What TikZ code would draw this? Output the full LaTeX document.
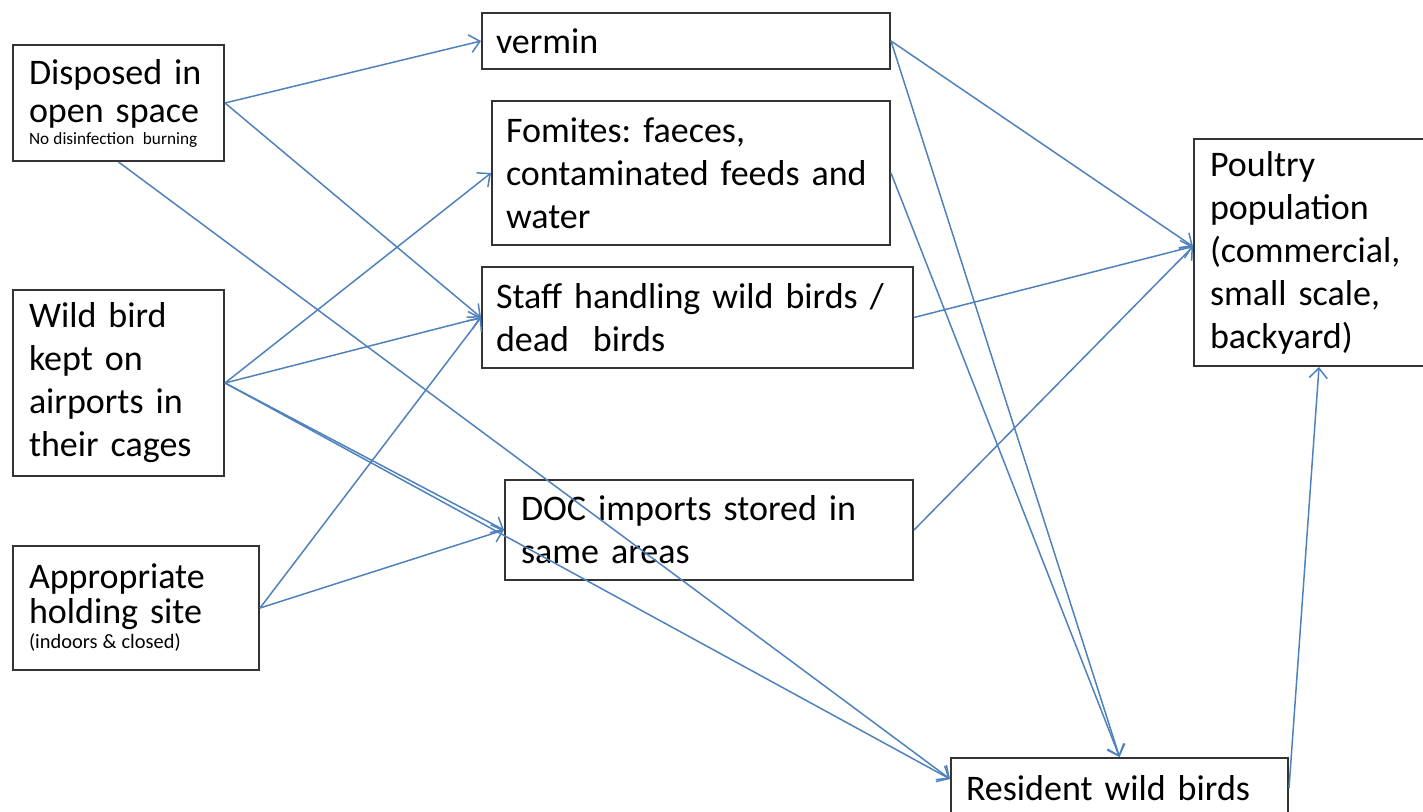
\documentclass[tikz,border=0pt]{standalone}
\usepackage{fontspec}
\setmainfont{Carlito}
\usetikzlibrary{arrows.meta}
\definecolor{linkblue}{HTML}{4F81BD}
\frenchspacing
\newcommand{\smalltext}[2]{\mbox{\fontsize{#1}{#1}\selectfont\spaceskip=0.25em\relax #2}}
\tikzset{
    box/.style={draw=black!80, line width=1pt, rectangle, anchor=north west, align=left, inner xsep=8pt, inner ysep=0pt, font=\fontsize{18}{21.5}\selectfont},
    link/.style={draw=linkblue, line width=0.75pt, -{Straight Barb[length=5pt,width=9pt]}}
}
\begin{document}
\begin{tikzpicture}[x=0.5pt,y=-0.5pt]
    \useasboundingbox (0,0) rectangle (1423,812);
    \node (disp) [box, minimum width=105.5pt, minimum height=58pt, text width=89.5pt, font=\fontsize{18}{19}\selectfont] at (12,44) {Disposed in\\open space\\[-8pt]\smalltext{8.6}{No disinfection\hspace{0.5em}burning}};
    \node (wild) [box, minimum width=105.5pt, minimum height=93pt, text width=89.5pt] at (12,289) {Wild bird\\kept on\\airports in\\their cages};
    \node (appr) [box, minimum width=123pt, minimum height=62pt, text width=107pt, font=\fontsize{18}{17.5}\selectfont] at (12,545) {Appropriate\\holding site\\[-5pt]\smalltext{10.2}{(indoors \& closed)}};
    \node (vermin) [box, minimum width=204pt, minimum height=28pt, text width=190pt, inner xsep=7pt] at (481,12) {vermin};
    \node (fomit) [box, minimum width=199pt, minimum height=72pt, text width=185pt, inner xsep=7pt] at (491,100) {Fomites: faeces,\\contaminated feeds and\\water};
    \node (staff) [box, minimum width=215.5pt, minimum height=50.5pt, text width=201.5pt, inner xsep=7pt] at (481,266) {Staff handling wild birds /\\dead\ \ birds};
    \node (doc) [box, minimum width=204pt, minimum height=50pt, text width=188pt] at (504,479) {DOC imports stored in\\same areas};
    \node (poul) [box, minimum width=125pt, minimum height=113.5pt, text width=109pt] at (1193,138) {Poultry\\population\\(commercial,\\small scale,\\backyard)};
    \node (res) [box, minimum width=168.5pt, minimum height=30pt, text width=153.5pt, inner xsep=7.5pt] at (950,757) {Resident wild birds};
    \draw[link] (disp.east) -- (vermin.west);
    \draw[link] (disp.east) -- (staff.west);
    \draw[link] (disp.south) -- ([yshift=4.5pt]res.west);
    \draw[link] (wild.east) -- (fomit.west);
    \draw[link] (wild.east) -- (staff.west);
    \draw[link] (wild.east) -- (doc.west);
    \draw[link] (wild.east) -- ([yshift=4.5pt]res.west);
    \draw[link] (appr.east) -- (staff.west);
    \draw[link] (appr.east) -- (doc.west);
    \draw[link] (vermin.east) -- ([yshift=3pt]poul.west);
    \draw[link] (vermin.east) -- (res.north);
    \draw[link] (fomit.east) -- (res.north);
    \draw[link] (staff.east) -- ([yshift=3pt]poul.west);
    \draw[link] (doc.east) -- ([yshift=3pt]poul.west);
    \draw[link] (res.east) -- (poul.south);
\end{tikzpicture}
\end{document}
